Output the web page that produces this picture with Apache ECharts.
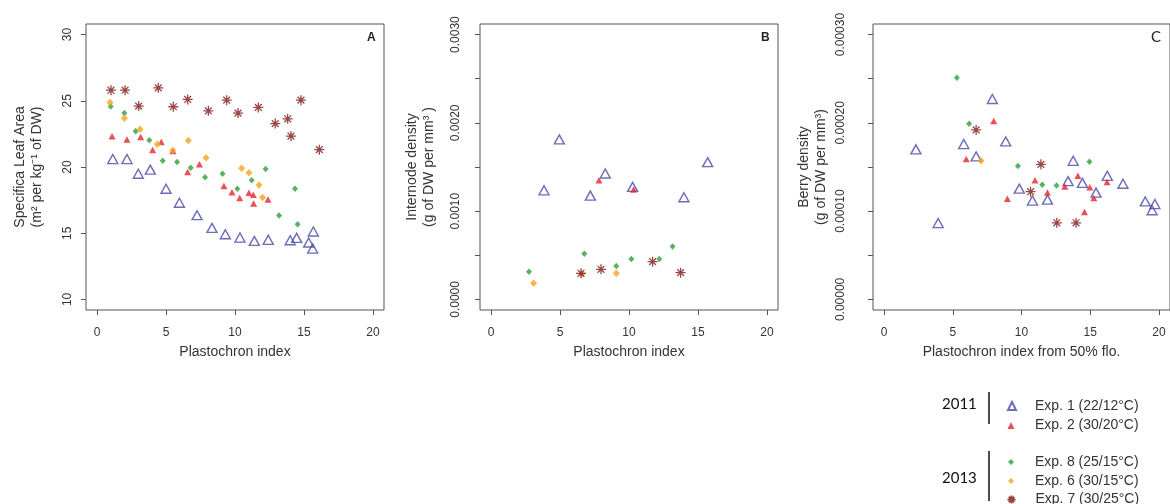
<!DOCTYPE html>
<html><head><meta charset="utf-8">
<script src="https://cdn.jsdelivr.net/npm/echarts@6/dist/echarts.min.js"></script>
<style>html,body{margin:0;padding:0;background:#fff}#c{width:1170px;height:504px}</style>
</head><body><div id="c"></div>
<script>
// ---- Panel A: Specific Leaf Area ----
const slaExp1 = [[1.14,20.6],[2.17,20.6],[2.99,19.49],[3.86,19.8],[5.0,18.36],[5.97,17.3],[7.25,16.36],[8.33,15.4],[9.3,14.92],[10.36,14.67],[11.4,14.42],[12.41,14.5],[14.0,14.47],[14.47,14.65],[15.68,15.13],[15.34,14.3],[15.63,13.84]];
const slaExp2 = [[1.09,22.33],[2.17,22.07],[3.16,22.27],[4.03,21.29],[4.66,21.89],[5.5,21.2],[6.57,19.62],[7.42,20.2],[9.2,18.56],[9.78,18.1],[10.34,17.65],[11.01,18.05],[11.33,17.9],[11.35,17.25],[12.39,17.55]];
const slaExp8 = [[0.99,24.57],[1.98,24.07],[2.8,22.7],[3.79,22.02],[4.76,20.48],[5.8,20.38],[6.79,19.95],[7.83,19.22],[9.1,19.49],[10.17,18.36],[11.21,18.99],[12.22,19.85],[13.19,16.34],[14.35,18.36],[14.54,15.68]];
const slaExp6 = [[0.94,24.87],[1.98,23.69],[3.12,22.86],[4.37,21.72],[5.48,21.24],[6.62,22.0],[7.9,20.7],[10.48,19.9],[11.01,19.57],[11.74,18.64],[12.0,17.7]];
const slaExp7 = [[1.01,25.8],[2.03,25.8],[4.44,25.98],[3.02,24.6],[5.53,24.55],[6.57,25.1],[8.07,24.24],[9.4,25.05],[10.22,24.07],[11.69,24.5],[12.92,23.28],[13.82,23.64],[14.06,22.33],[14.78,25.05],[16.11,21.31]];
// ---- Panel B: Internode density ----
const intExp1 = [[4.95,0.001813],[3.84,0.001236],[7.2,0.001176],[8.28,0.001426],[10.26,0.001275],[13.98,0.001157],[15.7,0.001555]];
const intExp2 = [[7.82,0.00135],[10.33,0.001244]];
const intExp8 = [[2.75,0.000314],[6.76,0.000516],[9.08,0.000379],[10.17,0.000459],[12.2,0.000459],[13.16,0.000599]];
const intExp6 = [[3.09,0.000182],[9.08,0.000296],[6.6,0.00029]];
const intExp7 = [[6.52,0.000296],[7.97,0.000341],[11.71,0.000428],[13.74,0.000303]];
// ---- Panel C: Berry density ----
const berExp1 = [[2.32,0.00017],[3.94,0.0000865],[5.8,0.000176],[6.7,0.000162],[7.88,0.000227],[8.85,0.000179],[9.84,0.0001255],[10.8,0.000112],[11.89,0.000113],[13.39,0.000134],[13.76,0.000157],[14.43,0.000132],[15.42,0.000121],[16.24,0.00014],[17.38,0.000131],[19.0,0.000111],[19.7,0.000108],[19.5,0.000101]];
const berExp2 = [[5.98,0.000159],[7.98,0.000202],[8.97,0.000114],[10.98,0.000135],[11.89,0.000121],[13.15,0.000128],[14.1,0.00014],[14.97,0.000127],[15.26,0.000115],[14.58,0.000099],[16.22,0.000133]];
const berExp8 = [[5.3,0.000251],[6.19,0.000199],[9.74,0.000151],[11.51,0.00013],[12.55,0.000129],[14.94,0.000156]];
const berExp6 = [[7.06,0.000157]];
const berExp7 = [[6.7,0.000192],[11.41,0.000153],[10.66,0.000122],[12.57,0.0000868],[13.97,0.0000868]];

const xTicks = [0,5,10,15,20];
const slaTicks = [10,15,20,25,30];
const intTicks = [0,0.0005,0.001,0.0015,0.002,0.0025,0.003];
const intLabels = [0,0.001,0.002,0.003];
const berTicks = [0,0.00005,0.0001,0.00015,0.0002,0.00025,0.0003];
const berLabels = [0,0.0001,0.0002,0.0003];
const seriesNames = ['Exp. 1 (22/12°C)','Exp. 2 (30/20°C)','Exp. 8 (25/15°C)','Exp. 6 (30/15°C)','Exp. 7 (30/25°C)'];

const FONT = 'Liberation Sans';
const AX = '#555';
const TXT = '#333';
const ASTER = 'path://M5 0 L5 10 M0 5 L10 5 M1.6 1.6 L8.4 8.4 M8.4 1.6 L1.6 8.4';
const styles = [
  {symbol:'triangle', symbolSize:[10,9], itemStyle:{color:'rgba(255,255,255,0)', borderColor:'#4747a6', borderWidth:1.4}},
  {symbol:'triangle', symbolSize:[7,6.5], itemStyle:{color:'#e5242c'}},
  {symbol:'diamond', symbolSize:[6,6.5], itemStyle:{color:'#2f9e3c'}},
  {symbol:'diamond', symbolSize:[7,7.5], itemStyle:{color:'#f5a21f'}},
  {symbol:ASTER, symbolSize:10, itemStyle:{color:'none', borderColor:'#821818', borderWidth:1.3}}
];

const grids = [
  {left:86, top:24, width:298, height:286},
  {left:480, top:24, width:298, height:286},
  {left:873, top:24, width:298, height:286}
].map(g => Object.assign(g, {show:true, borderColor:AX, borderWidth:1, backgroundColor:'transparent'}));

function xAx(gi, name){
  return {gridIndex:gi, type:'value', min:-0.8, max:20.8,
    axisLine:{show:false, onZero:false}, splitLine:{show:false},
    axisTick:{show:true, inside:false, length:5, customValues:xTicks, lineStyle:{color:AX}},
    axisLabel:{customValues:xTicks, margin:17, fontSize:12, color:TXT, fontFamily:FONT},
    name:name, nameLocation:'middle', nameGap:35,
    nameTextStyle:{fontSize:14, color:TXT, fontFamily:FONT}};
}
function yAx(gi, min, max, ticks, labels, dec, name, gap, margin){
  return {gridIndex:gi, type:'value', min:min, max:max,
    axisLine:{show:false, onZero:false}, splitLine:{show:false},
    axisTick:{show:true, inside:false, length:5, customValues:ticks, lineStyle:{color:AX}},
    axisLabel:{customValues:labels, rotate:90, margin:margin, fontSize:12, color:TXT, fontFamily:FONT,
      formatter: v => dec === 0 ? String(v) : Number(v).toFixed(dec)},
    name:name, nameLocation:'middle', nameGap:gap,
    nameTextStyle:{fontSize:14, lineHeight:17, color:TXT, fontFamily:FONT, align:'center'}};
}

const panels = [
  [slaExp1, slaExp2, slaExp8, slaExp6, slaExp7],
  [intExp1, intExp2, intExp8, intExp6, intExp7],
  [berExp1, berExp2, berExp8, berExp6, berExp7]
];
const series = [];
panels.forEach((arrs, gi) => {
  arrs.forEach((d, si) => {
    series.push(Object.assign({type:'scatter', name:seriesNames[si], xAxisIndex:gi, yAxisIndex:gi,
      data:d, silent:true, animation:false}, JSON.parse(JSON.stringify(styles[si]))));
  });
});

// one legend per entry: [icon size, vertical centre, x nudge, text nudge]
const legendSpec = [[8,403,0,-1],[7,422,0,0],[6,458,0,0],[6,477,0,0],[8,496.5,-2,-2]];
const legends = legendSpec.map(([w, cy, dx, dt], i) => {
  const left = 1011 - w / 2 + dx;
  return {data:[seriesNames[i]], orient:'vertical', left:left, top:cy - w / 2, padding:0,
    itemWidth:w, itemHeight:w, selectedMode:false,
    textStyle:{fontSize:14, lineHeight:14, color:TXT, fontFamily:FONT,
      padding:[0,0,0, 1035 - (left + w + 5) + dt]}};
});

const option = {
  animation:false,
  grid: grids,
  xAxis: [xAx(0,'Plastochron index'), xAx(1,'Plastochron index'), xAx(2,'Plastochron index from 50% flo.')],
  yAxis: [
    yAx(0, 9.2, 30.8, slaTicks, slaTicks, 0, 'Specifica Leaf Area\n(m² per kg⁻¹ of DW)', 40, 12),
    yAx(1, -0.00012, 0.00312, intTicks, intLabels, 4, 'Internode density\n(g of DW per mm³ )', 42, 18),
    yAx(2, -0.000012, 0.000312, berTicks, berLabels, 5, 'Berry density\n(g of DW per mm³)', 43, 26)
  ],
  legend: legends,
  graphic: [
    {type:'text', left:367, top:32, style:{text:'A', font:'bold 12px "Liberation Sans"', fill:'#222'}},
    {type:'text', left:761, top:32, style:{text:'B', font:'bold 12px "Liberation Sans"', fill:'#222'}},
    {type:'text', left:1151, top:30, style:{text:'C', font:'15px Lato', fill:'#222'}},
    {type:'text', left:942, top:397, style:{text:'2011', font:'15px Lato', fill:'#111'}},
    {type:'text', left:942, top:471, style:{text:'2013', font:'15px Lato', fill:'#111'}},
    {type:'line', shape:{x1:989, y1:392, x2:989, y2:424}, style:{stroke:'#111', lineWidth:1.5}},
    {type:'line', shape:{x1:989, y1:451, x2:989, y2:501}, style:{stroke:'#111', lineWidth:1.5}}
  ],
  series: series
};
const chart = echarts.init(document.getElementById('c'), null, {renderer:'canvas'});
chart.setOption(option);
</script></body></html>
